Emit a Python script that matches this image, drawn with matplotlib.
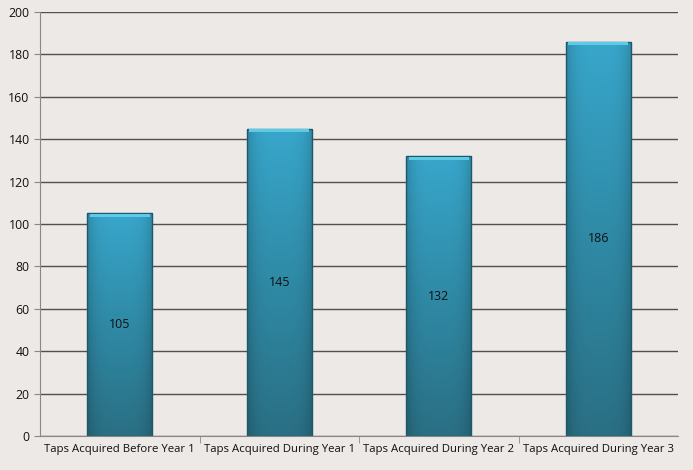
import numpy as np
import matplotlib.pyplot as plt
from matplotlib.colors import LinearSegmentedColormap

categories = ['Taps Acquired Before Year 1', 'Taps Acquired During Year 1',
              'Taps Acquired During Year 2', 'Taps Acquired During Year 3']
values = [105, 145, 132, 186]

bg = '#ece9e6'
fig = plt.figure(figsize=(6.93, 4.70), dpi=100, facecolor=bg)
ax = fig.add_axes([40/693, 1-436/470, 638/693, 424/470])
ax.set_facecolor(bg)

x = np.arange(len(categories))
bars = ax.bar(x, values, width=0.41, color='none', edgecolor='#1f5868', linewidth=1.0, zorder=3)

# vertical gradient inside each bar, darker at the bottom
cmap = LinearSegmentedColormap.from_list('bar', ['#2a6f84', '#2f8aa6', '#38a6cb'])
grad = np.linspace(0, 1, 256).reshape(-1, 1)
# slight horizontal shading toward the edges
shade = 1 - 0.18 * np.abs(np.linspace(-1, 1, 64)) ** 4
for b in bars:
    x0, w, h = b.get_x(), b.get_width(), b.get_height()
    rgb = cmap(np.repeat(grad, 64, axis=1))[..., :3] * shade[None, :, None]
    im = ax.imshow(rgb, extent=[x0, x0 + w, 0, h], origin='lower',
                   aspect='auto', zorder=2)
    im.set_clip_path(b)
    # light bevel at the top
    ax.fill_between([x0 + w*0.04, x0 + w*0.96], h - 1.8, h - 0.2,
                    color='#5ccbe8', zorder=3.5, linewidth=0)
    ax.text(x0 + w/2, h/2, str(h), ha='center', va='center',
            fontsize=9, color='#111111', zorder=4, family='Open Sans')

ax.set_xlim(-0.5, len(categories) - 0.5)
ax.set_ylim(0, 200)
ax.set_yticks(range(0, 201, 20))
ax.yaxis.grid(True, color='#564e4c', linewidth=1.0, zorder=0)
ax.set_axisbelow(True)

ax.set_xticks(x)
ax.set_xticklabels(categories, fontsize=8.2, family='Open Sans', color='#111111')
ax.tick_params(axis='x', length=0, pad=6)
ax.set_xticks(np.arange(0.5, len(categories) - 1, 1), minor=True)
ax.tick_params(axis='x', which='minor', length=5, color='#888888', direction='out')
ax.tick_params(axis='y', length=4, color='#888888', labelsize=8.8, labelcolor='#111111')
for lab in ax.get_yticklabels():
    lab.set_family('Open Sans')

for s in ['top', 'right']:
    ax.spines[s].set_visible(False)
ax.spines['left'].set_color('#888888')
ax.spines['bottom'].set_color('#888888')

fig.savefig('out.png', dpi=100, facecolor=bg)
